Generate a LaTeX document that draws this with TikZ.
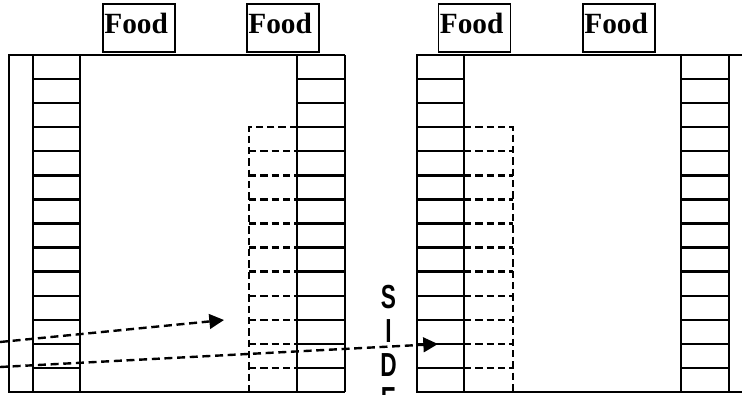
\documentclass[tikz,border=0pt]{standalone}
\usepackage{fontspec}
\setmainfont{Liberation Serif}
\newfontfamily\sidefont{Liberation Sans}
\usetikzlibrary{arrows.meta}
\begin{document}
\begin{tikzpicture}[x=0.75pt,y=-0.75pt,line width=1.8pt,
    food/.style={draw,line width=1.3pt,text width=52pt,align=left,inner xsep=1pt,inner ysep=0pt,
      minimum height=36pt,text depth=6.5pt,font=\bfseries\fontsize{22}{24}\selectfont},
    spot/.style={dash pattern=on 5.5pt off 3pt},
    walk/.style={dash pattern=on 6pt off 3.5pt,-{Triangle[length=11pt,width=11pt]}}]
  \useasboundingbox (0,0) rectangle (742,394);
  % food boxes
  \node[food] (food1) at (139,28) {Food};
  \node[food] (food2) at (283,28) {Food};
  \node[food] (food3) at (474.5,28) {Food};
  \node[food] (food4) at (619,28) {Food};
  % left room
  \draw (345,55) -- (9,55) -- (9,392) -- (345,392);
  \foreach \x in {33,80,297,345} {
      \draw (\x,55) -- (\x,392);
    }
  \foreach \i in {1,...,13} {
      \draw (33,55+24.07*\i) -- (80,55+24.07*\i);
      \draw (297,55+24.07*\i) -- (345,55+24.07*\i);
    }
  \draw[spot] (297,127) -- (249,127) -- (249,392) -- (297,392);
  \foreach \i in {4,...,13} {
      \draw[spot] (249,55+24.07*\i) -- (297,55+24.07*\i);
    }
  % right room
  \draw (742,55) -- (417,55) -- (417,392) -- (742,392);
  \foreach \x in {464,681,729} {
      \draw (\x,55) -- (\x,392);
    }
  \foreach \i in {1,...,13} {
      \draw (417,55+24.07*\i) -- (464,55+24.07*\i);
      \draw (681,55+24.07*\i) -- (729,55+24.07*\i);
    }
  \draw[spot] (464,127) -- (513,127) -- (513,392) -- (464,392);
  \foreach \i in {4,...,13} {
      \draw[spot] (464,55+24.07*\i) -- (513,55+24.07*\i);
    }
  % side label
  \foreach \c [count=\k from 0] in {S,I,D,E} {
      \node[anchor=base,inner sep=0pt,xscale=0.68,font=\sidefont\bfseries\fontsize{25}{27}\selectfont]
        (side\k) at (388.5,308+34.3*\k) {\c};
    }
  % walking paths
  \coordinate (walk1a) at (0,342);
  \coordinate (walk1b) at (224,320);
  \coordinate (walk2a) at (0,367);
  \coordinate (walk2b) at (438,344);
  \draw[walk] (walk1a) -- (walk1b);
  \draw[walk] (walk2a) -- (walk2b);
\end{tikzpicture}
\end{document}
